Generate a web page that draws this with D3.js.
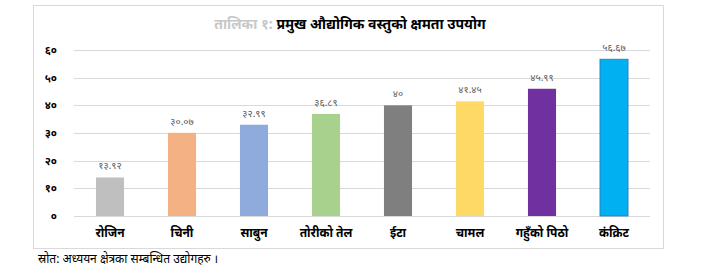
<!DOCTYPE html>
<html>
<head>
<meta charset="utf-8">
<script src="https://cdn.jsdelivr.net/npm/d3@7.9.0/dist/d3.min.js"></script>
<style>
  body { margin: 0; background: #fff; font-family: "Noto Sans", sans-serif; }
</style>
</head>
<body>
<svg id="chart" width="712" height="269"></svg>
<script>
const categories = ['रोजिन', 'चिनी', 'साबुन', 'तोरीको तेल', 'ईटा', 'चामल', 'गहुँको पिठो', 'कंक्रिट'];
const values = [13.92, 30.07, 32.99, 36.89, 40, 41.45, 45.99, 56.67];
const valueLabels = ['१३.९२', '३०.०७', '३२.९९', '३६.८९', '४०', '४१.४५', '४५.९९', '५६.६७'];
const yTicks = [0, 10, 20, 30, 40, 50, 60];
const colors = ['#bfbfbf', '#f4b183', '#8faadc', '#a9d18e', '#7f7f7f', '#ffd966', '#7030a0', '#00b0f0'];

// arabic -> devanagari digits
const devDigits = '०१२३४५६७८९';
const toDev = (n) => String(n).replace(/[0-9]/g, (d) => devDigits[+d]);

const svg = d3.select('#chart');

// chart frame
svg.append('rect')
    .attr('x', 33.5).attr('y', 5.5)
    .attr('width', 630).attr('height', 243)
    .attr('fill', '#fff').attr('stroke', '#d9d9d9');

const x = d3.scaleBand().domain(categories).range([74, 650])
    .paddingInner(0.61).paddingOuter(0.305);
const y = d3.scaleLinear().domain([0, 60]).range([216, 50]);

// gridlines
svg.append('g')
    .selectAll('line')
    .data(yTicks)
    .join('line')
    .attr('x1', 74).attr('x2', 650)
    .attr('y1', (d) => Math.round(y(d)) + 0.5)
    .attr('y2', (d) => Math.round(y(d)) + 0.5)
    .attr('stroke', '#d9d9d9');

// y axis labels
svg.append('g')
    .selectAll('text')
    .data(yTicks)
    .join('text')
    .attr('x', 57)
    .attr('y', (d) => y(d) + 4)
    .attr('text-anchor', 'end')
    .attr('font-size', 11)
    .attr('font-weight', 'bold')
    .text((d) => toDev(d));

// bars
svg.append('g')
    .selectAll('rect')
    .data(values)
    .join('rect')
    .attr('x', (d, i) => x(categories[i]))
    .attr('y', (d) => y(d))
    .attr('width', x.bandwidth())
    .attr('height', (d) => y(0) - y(d))
    .attr('fill', (d, i) => colors[i])
    .attr('stroke', (d, i) => (i === 7 ? '#2e75b6' : 'none'))
    .attr('stroke-width', 0.8);

// value labels
svg.append('g')
    .selectAll('text')
    .data(values)
    .join('text')
    .attr('x', (d, i) => x(categories[i]) + x.bandwidth() / 2)
    .attr('y', (d) => y(d) - 8)
    .attr('text-anchor', 'middle')
    .attr('font-size', 10)
    .attr('fill', '#595959')
    .text((d, i) => valueLabels[i]);

// category labels
svg.append('g')
    .selectAll('text')
    .data(categories)
    .join('text')
    .attr('x', (d) => x(d) + x.bandwidth() / 2)
    .attr('y', 237)
    .attr('text-anchor', 'middle')
    .attr('font-size', 12)
    .attr('font-weight', 'bold')
    .text((d) => d);

// title
const title = svg.append('text')
    .attr('x', 350).attr('y', 29)
    .attr('text-anchor', 'middle')
    .attr('font-size', 14)
    .attr('font-weight', 'bold');
title.append('tspan').attr('fill', '#c8c8c8').text('तालिका १: ');
title.append('tspan').text('प्रमुख औद्योगिक वस्तुको क्षमता उपयोग');

// source note
svg.append('text')
    .attr('x', 38).attr('y', 263)
    .attr('font-size', 12)
    .text('स्रोत: अध्ययन क्षेत्रका सम्बन्धित उद्योगहरु ।');
</script>
</body>
</html>
